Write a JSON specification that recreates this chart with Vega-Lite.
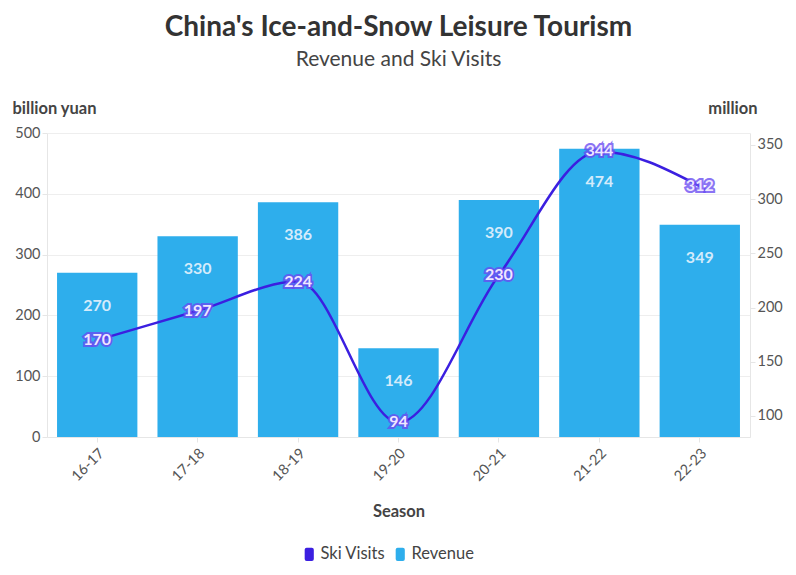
{
  "$schema": "https://vega.github.io/schema/vega-lite/v6.json",
  "width": 703,
  "height": 304,
  "autosize": {"type": "none"},
  "padding": {"left": 47, "top": 133, "right": 46, "bottom": 138},
  "background": "white",
  "title": {
    "text": "China's Ice-and-Snow Leisure Tourism",
    "subtitle": "Revenue and Ski Visits",
    "anchor": "middle",
    "fontSize": 28,
    "fontWeight": "bold",
    "color": "#333333",
    "subtitleFontSize": 21,
    "subtitleColor": "#444444",
    "subtitlePadding": 7,
    "offset": 30,
    "font": "Lato",
    "subtitleFont": "Lato"
  },
  "config": {
    "font": "Lato",
    "view": {"stroke": null},
    "axis": {
      "labelFont": "Lato",
      "titleFont": "Lato",
      "labelFontSize": 14.5,
      "labelColor": "#555555",
      "titleFontSize": 16.5,
      "titleColor": "#444444",
      "titleFontWeight": "bold",
      "domainColor": "#e6e6e6",
      "tickColor": "#e6e6e6",
      "gridColor": "#eeeeee"
    },
    "legend": {"labelFont": "Lato", "labelFontSize": 16.5, "labelColor": "#444444"}
  },
  "data": {
    "values": [
      {"season": "16-17", "revenue": 270, "visits": 170},
      {"season": "17-18", "revenue": 330, "visits": 197},
      {"season": "18-19", "revenue": 386, "visits": 224},
      {"season": "19-20", "revenue": 146, "visits": 94},
      {"season": "20-21", "revenue": 390, "visits": 230},
      {"season": "21-22", "revenue": 474, "visits": 344},
      {"season": "22-23", "revenue": 349, "visits": 312}
    ]
  },
  "encoding": {
    "x": {
      "field": "season",
      "type": "nominal",
      "sort": null,
      "title": "Season",
      "scale": {"paddingInner": 0.2, "paddingOuter": 0.1},
      "axis": {"labelAngle": -45, "titlePadding": 20, "labelPadding": 4}
    }
  },
  "layer": [
    {
      "layer": [
        {
          "mark": {"type": "bar"},
          "encoding": {
            "y": {
              "field": "revenue",
              "type": "quantitative",
              "scale": {"domain": [0, 500]},
              "axis": {
                "title": "billion yuan",
                "titleAngle": 0,
                "titleAlign": "left",
                "titleAnchor": "end",
                "titleBaseline": "alphabetic",
                "titleX": -35,
                "titleY": -20,
                "tickCount": 5
              }
            },
            "color": {
              "datum": "Revenue",
              "type": "nominal",
              "scale": {"domain": ["Ski Visits", "Revenue"], "range": ["#3b1fe0", "#2eaeec"]},
              "legend": {
                "title": null,
                "orient": "none",
                "legendX": 254,
                "legendY": 413,
                "direction": "horizontal",
                "symbolType": "M-0.4,-1 h0.8 q0.3,0 0.3,0.3 v1.4 q0,0.3 -0.3,0.3 h-0.8 q-0.3,0 -0.3,-0.3 v-1.4 q0,-0.3 0.3,-0.3 Z",
                "symbolSize": 170,
                "symbolStrokeWidth": 0,
                "symbolOpacity": 1,
                "columnPadding": 6,
                "labelOffset": 3
              }
            }
          }
        },
        {
          "mark": {"type": "text", "fontSize": 16, "fontWeight": "bold", "color": "#d4ebfb", "baseline": "middle", "dy": 33},
          "encoding": {
            "y": {"field": "revenue", "type": "quantitative", "scale": {"domain": [0, 500]}},
            "text": {"field": "revenue", "type": "quantitative"}
          }
        }
      ]
    },
    {
      "layer": [
        {
          "mark": {"type": "line", "interpolate": "monotone", "strokeWidth": 2.5, "color": "#3b1fe0"},
          "encoding": {
            "y": {
              "field": "visits",
              "type": "quantitative",
              "scale": {"domain": [80.6, 361], "nice": false, "zero": false},
              "axis": {
                "title": "million",
                "orient": "right",
                "grid": false,
                "values": [100, 150, 200, 250, 300, 350],
                "titleAngle": 0,
                "titleAlign": "right",
                "titleAnchor": "end",
                "titleBaseline": "alphabetic",
                "titleX": 7,
                "titleY": -20
              }
            },
            "color": {"datum": "Ski Visits", "type": "nominal"}
          }
        },
        {
          "mark": {"type": "text", "fontSize": 16, "fontWeight": "bold", "color": "#6a4cf2", "stroke": "#6a4cf2", "strokeWidth": 4, "strokeOpacity": 0.8, "baseline": "middle"},
          "encoding": {
            "y": {"field": "visits", "type": "quantitative", "scale": {"domain": [80.6, 361], "nice": false, "zero": false}},
            "text": {"field": "visits", "type": "quantitative"}
          }
        },
        {
          "mark": {"type": "text", "fontSize": 16, "fontWeight": "bold", "color": "#eee8ff", "baseline": "middle"},
          "encoding": {
            "y": {"field": "visits", "type": "quantitative", "scale": {"domain": [80.6, 361], "nice": false, "zero": false}},
            "text": {"field": "visits", "type": "quantitative"}
          }
        }
      ]
    }
  ],
  "resolve": {"scale": {"y": "independent"}}
}
